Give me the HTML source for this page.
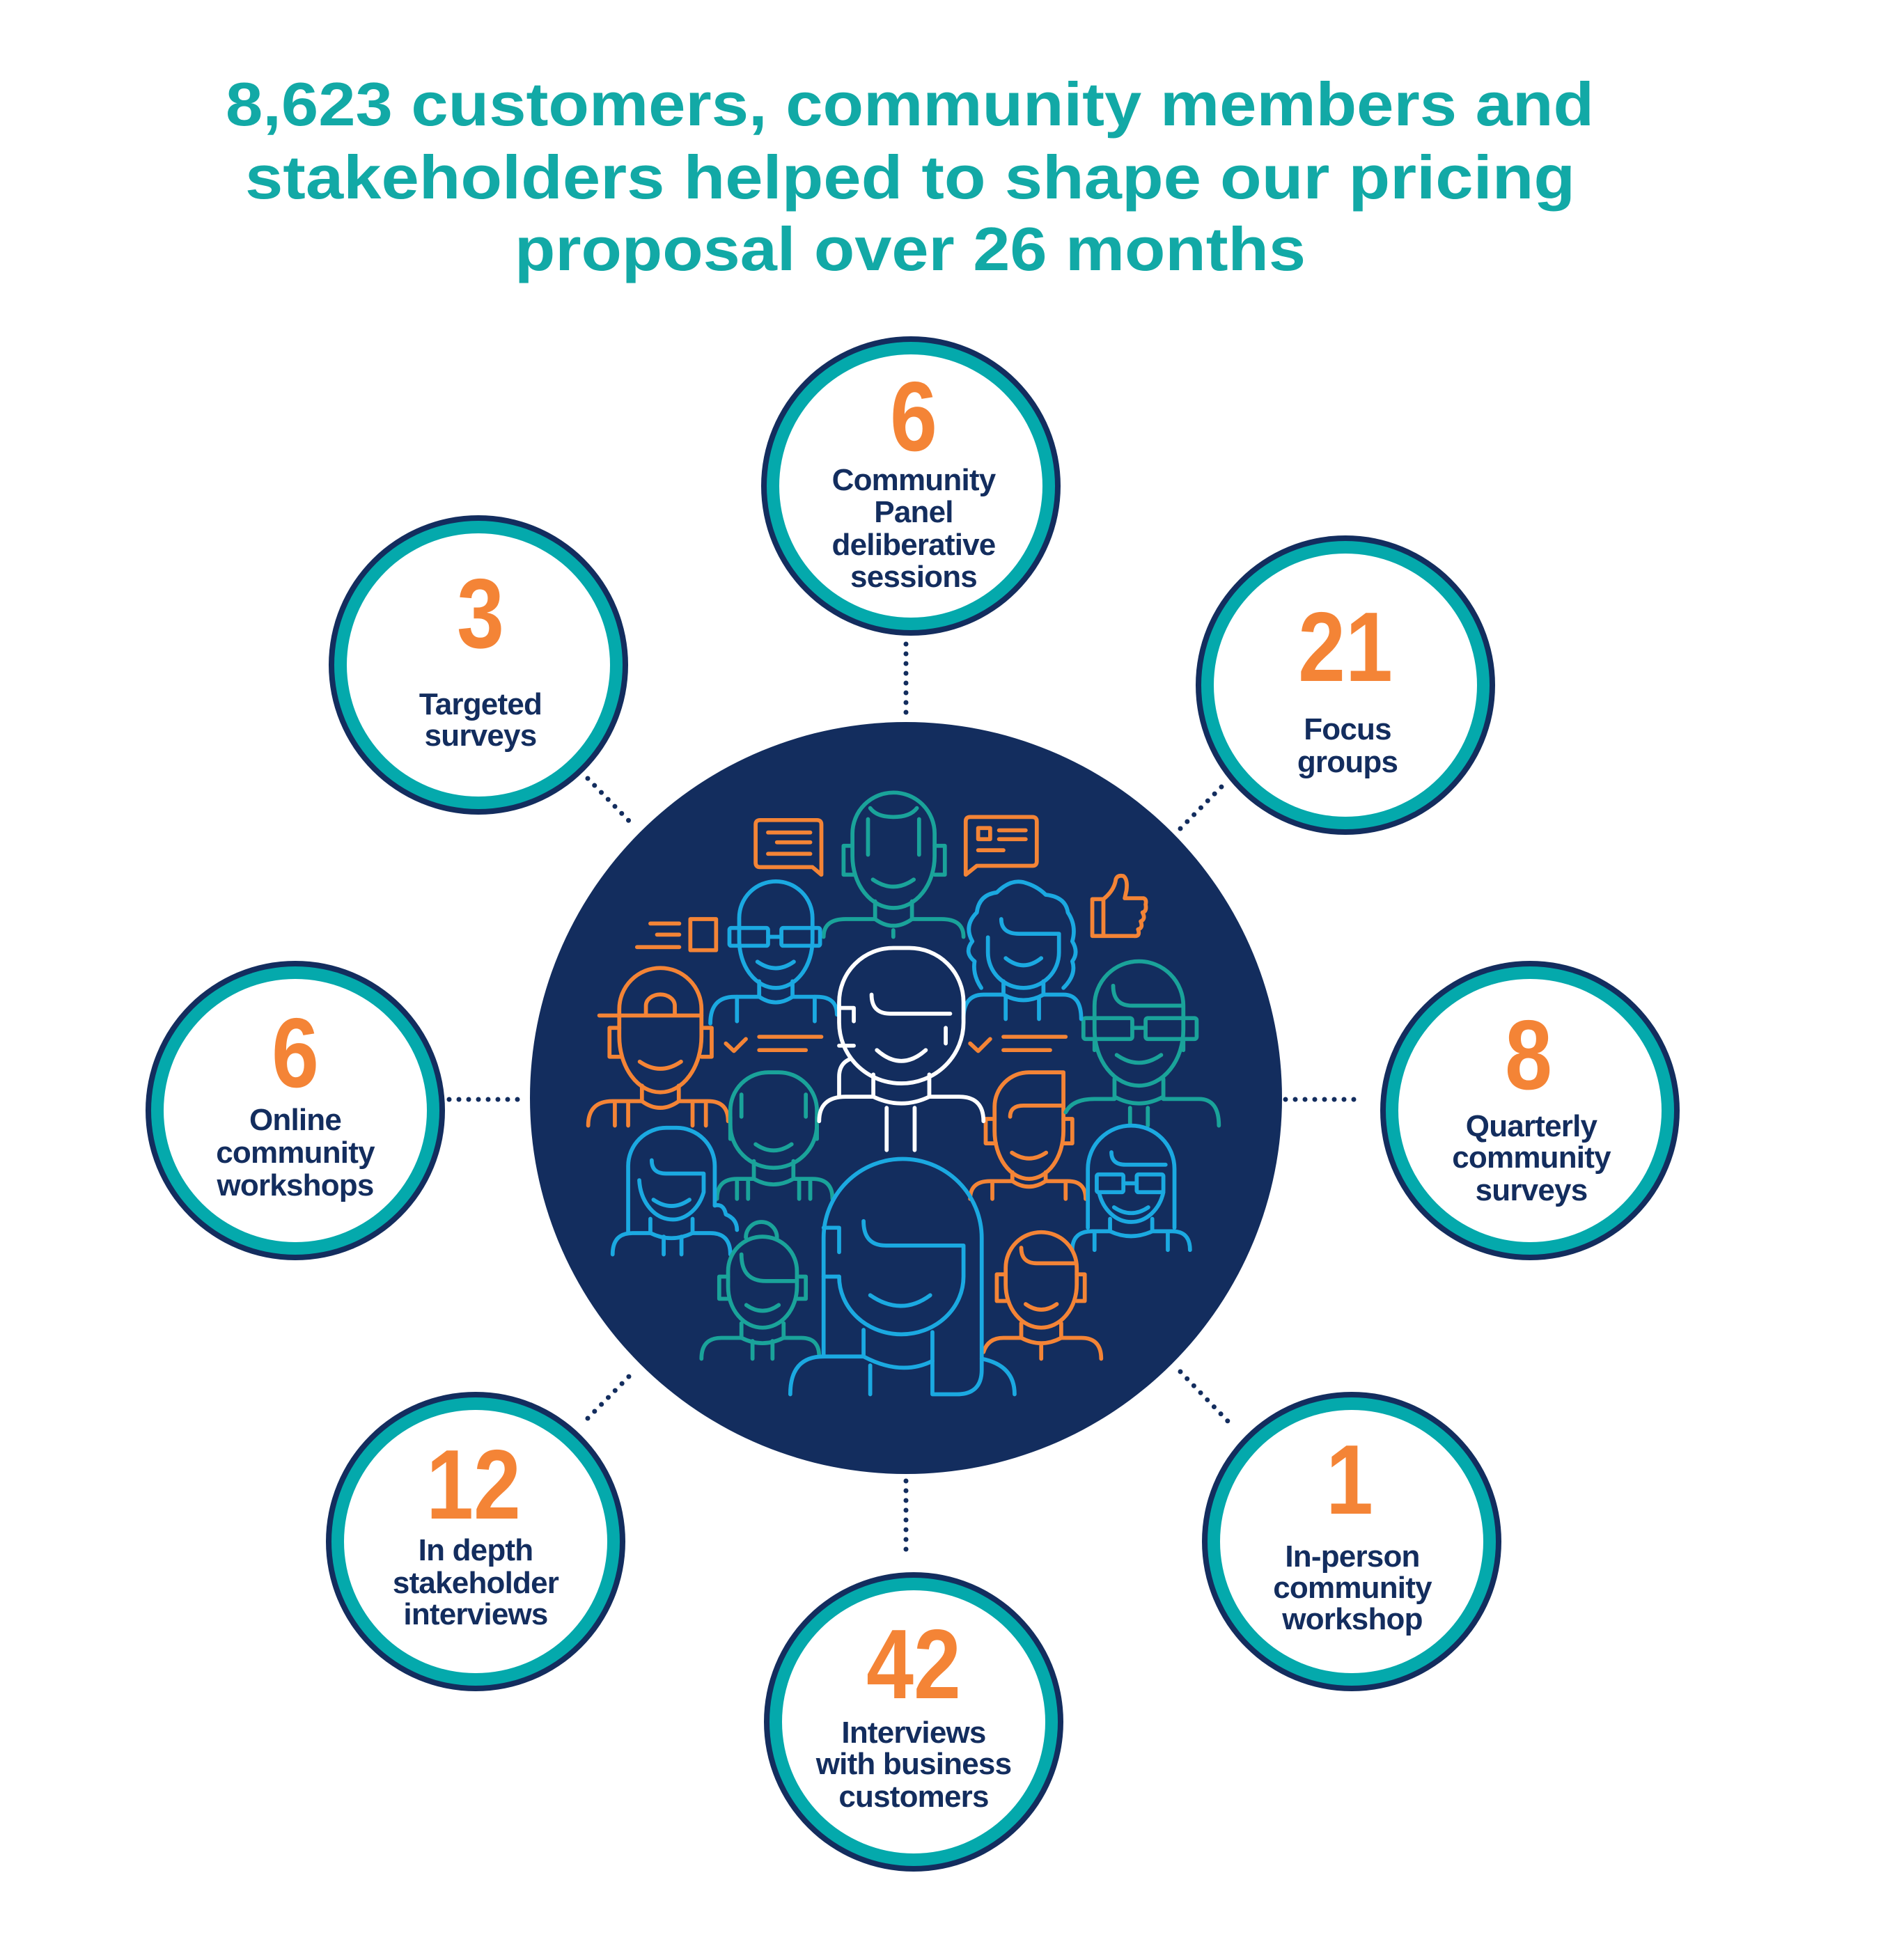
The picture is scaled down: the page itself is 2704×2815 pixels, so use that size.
<!DOCTYPE html>
<html><head><meta charset="utf-8"><style>
html,body{margin:0;padding:0;background:#fff;}
svg{display:block;}
.t{font-family:"Liberation Sans",sans-serif;font-weight:bold;fill:#12a9a6;font-size:88px;}
.n{font-family:"Liberation Sans Narrow","Liberation Sans",sans-serif;font-weight:bold;fill:#f48436;font-size:142px;text-anchor:middle;}
.l{font-family:"Liberation Sans",sans-serif;font-weight:bold;fill:#132d5e;font-size:44px;text-anchor:middle;letter-spacing:-0.8px;}
</style></head><body>
<svg width="2704" height="2815" viewBox="0 0 2704 2815" xmlns="http://www.w3.org/2000/svg">
<rect width="2704" height="2815" fill="#fff"/>
<text class="t" x="324" y="180" textLength="1965" lengthAdjust="spacingAndGlyphs">8,623 customers, community members and</text>
<text class="t" x="352" y="285" textLength="1910" lengthAdjust="spacingAndGlyphs">stakeholders helped to shape our pricing</text>
<text class="t" x="739" y="388" textLength="1136" lengthAdjust="spacingAndGlyphs">proposal over 26 months</text>

<g stroke="#132d5e" stroke-width="7" stroke-linecap="round" stroke-dasharray="0 14" fill="none">
<line x1="1301" y1="925" x2="1301" y2="1033"/>
<line x1="1301" y1="2127" x2="1301" y2="2232"/>
<line x1="645" y1="1579" x2="754" y2="1579"/>
<line x1="1846" y1="1579" x2="1956" y2="1579"/>
<line x1="844" y1="1118" x2="910" y2="1186"/>
<line x1="1695" y1="1190" x2="1763" y2="1121"/>
<line x1="844" y1="2037" x2="910" y2="1970"/>
<line x1="1695" y1="1970" x2="1763" y2="2041"/>
</g>

<circle cx="1301" cy="1577" r="540" fill="#132d5e"/>

<g transform="translate(800,1100) scale(0.6378)" fill="none" stroke-width="9" stroke-linecap="round" stroke-linejoin="round">
 <g stroke="#f48436">
  <path d="M457,122 H585 Q595,122 595,132 V245 L575,228 H457 Q447,228 447,218 V132 Q447,122 457,122 Z"/>
  <path d="M475,150 H570 M495,172 H570 M475,198 H570"/>
  <path d="M930,115 H1070 Q1080,115 1080,125 V215 Q1080,225 1070,225 H945 L920,245 V125 Q920,115 930,115 Z"/>
  <rect x="948" y="140" width="27" height="25"/>
  <path d="M995,145 H1055 M995,165 H1055 M948,190 H1005"/>
  <path d="M1205,300 H1230 Q1255,280 1258,255 Q1262,245 1275,248 Q1285,255 1282,280 L1278,298 H1320 Q1328,300 1325,312 Q1328,328 1318,330 Q1326,345 1314,350 Q1320,365 1308,368 Q1314,385 1298,383 H1205 Z M1230,300 V383"/>
  <path d="M210,355 H275 M225,380 H275 M180,408 H275"/>
  <rect x="300" y="345" width="58" height="70"/>
  <path d="M380,625 L398,642 L425,615 M455,610 H595 M455,640 H560"/>
  <path d="M930,625 L948,642 L975,615 M1005,610 H1145 M1005,640 H1110"/>
 </g>
 <g stroke="#1aa39a">
  <path d="M665,203 V152.5 A92.5,92.5 0 0 1 850,152.5 V203 A92.5,117 0 0 1 665,203"/>
  <path d="M705,95 Q720,115 757,115 Q795,115 810,95 M700,120 V200 M815,120 V200"/>
  <path d="M665,180 H645 V245 H668 M850,180 H873 V245 H850"/>
  <path d="M711,256 Q757.5,288 803,256"/>
  <path d="M716,305 V345 M799,305 V345 M716,345 Q757,375 799,345 M757,370 V385"/>
  <path d="M600,385 Q600,345 650,345 H716 M799,345 H865 Q915,345 915,385"/>
 </g>
 <g stroke="#1ba9e1">
  <path d="M410,392 V342.5 A82.5,82.5 0 0 1 575,342.5 V392 A82.5,108 0 0 1 410,392"/>
  <rect x="388" y="365" width="87" height="40" rx="4"/><rect x="505" y="365" width="87" height="40" rx="4"/>
  <path d="M475,385 H505"/>
  <path d="M451,441 Q492.5,470 533,441"/>
  <path d="M455,485 V520 M530,485 V520 M455,520 Q492,545 530,520 M405,520 V575 M580,520 V575"/>
  <path d="M345,580 Q345,520 400,520 H455 M530,520 H585 Q630,520 630,560"/>
 </g>
 <g stroke="#f48436">
  <path d="M140,609 V547.5 A92.5,92.5 0 0 1 325,547.5 V609 A92.5,126 0 0 1 140,609"/>
  <path d="M95,562 H325 M200,562 V540 A32,25 0 0 1 265,540 V562"/>
  <path d="M140,590 H118 V655 H142 M325,590 H348 V655 H325"/>
  <path d="M186,666 Q232.5,698 279,666"/>
  <path d="M191,720 V755 M274,720 V755 M191,755 Q232,785 274,755 M130,760 V810 M160,760 V810 M305,760 V810 M335,760 V810"/>
  <path d="M70,810 Q70,755 125,755 H191 M274,755 H340 Q385,755 385,800"/>
 </g>
 <g stroke="#1aa39a">
  <path d="M390,808 V776 A86,86 0 0 1 476,690 H499 A86,86 0 0 1 585,776 V808 A97.5,97 0 0 1 390,808"/>
  <path d="M390,790 V840 M585,790 V840 M415,740 V790 M560,740 V790"/>
  <path d="M447,852 Q487.5,880 528,852"/>
  <path d="M443,890 V930 M532,890 V930 M443,930 Q487,955 532,930 M405,935 V975 M430,935 V975 M545,935 V975 M570,935 V975"/>
  <path d="M360,975 Q360,930 405,930 H443 M532,930 H575 Q620,930 620,975"/>
 </g>
 <g stroke="#f48436">
  <path d="M985,822 V767.5 A77.5,77.5 0 0 1 1062.5,690 H1140 V822 A77.5,108 0 0 1 985,822"/>
  <path d="M1020,790 Q1020,765 1050,765 H1138"/>
  <path d="M985,795 H965 V850 H988 M1140,795 H1160 V850 H1140"/>
  <path d="M1024,871 Q1062.5,897 1101,871"/>
  <path d="M1025,915 V935 M1100,915 V935 M1025,935 Q1062,960 1100,935 M980,940 V975 M1145,940 V975"/>
  <path d="M930,975 Q930,935 975,935 H1025 M1100,935 H1150 Q1190,935 1190,975"/>
 </g>
 <g stroke="#1aa39a">
  <path d="M1210,594 V540 A100,100 0 0 1 1410,540 V594 A100,126 0 0 1 1210,594"/>
  <path d="M1252,495 Q1252,540 1295,540 H1405"/>
  <rect x="1185" y="568" width="110" height="47" rx="5"/><rect x="1325" y="568" width="115" height="47" rx="5"/>
  <path d="M1295,590 H1325 M1210,615 V640 M1410,615 V640"/>
  <path d="M1260,651 Q1310,686 1360,651"/>
  <path d="M1255,705 V745 M1365,705 V745 M1255,745 Q1310,775 1365,745 M1290,770 V810 M1330,770 V810"/>
  <path d="M1145,780 Q1160,750 1210,750 H1255 M1365,750 H1445 Q1490,750 1490,810"/>
 </g>
 <g stroke="#1ba9e1">
  <path d="M955,500 Q935,470 940,440 Q915,420 935,395 Q915,360 945,330 Q950,290 990,285 Q1020,255 1050,262 Q1080,270 1100,290 Q1145,295 1150,330 Q1170,360 1160,395 Q1175,420 1160,440 Q1170,470 1140,500"/>
  <path d="M970,386 V420 A80,80 0 0 0 1130,420 V378 H1040 Q1000,378 1000,345"/>
  <path d="M1010,433 Q1050,465 1090,433"/>
  <path d="M1005,485 V515 M1095,485 V515 M1005,515 Q1050,540 1095,515 M1010,520 V570 M1085,520 V570"/>
  <path d="M915,570 Q915,515 960,515 H1005 M1095,515 H1140 Q1180,515 1180,570"/>
 </g>
 <g stroke="#ffffff">
  <path d="M635,578 V532 A122,122 0 0 1 757,410 H793 A122,122 0 0 1 915,532 V578 A140,137 0 0 1 635,578"/>
  <path d="M708,515 Q708,558 750,558 H885"/>
  <path d="M635,545 H668 V575 M635,630 H668 M875,590 V625"/>
  <path d="M720,640 Q775,689 830,640"/>
  <path d="M712,695 V745 M838,695 V745 M712,745 Q775,775 838,745 M742,770 V865 M805,770 V865"/>
  <path d="M590,800 Q590,745 650,745 H712 M838,745 H905 Q960,745 960,800"/>
  <path d="M660,660 Q635,670 635,700 V745"/>
 </g>
 <g stroke="#1ba9e1">
  <path d="M160,1050 V901 A86,86 0 0 1 246,815 H269 A86,86 0 0 1 355,901 V990"/>
  <path d="M185,933 A75,95 0 0 0 330,960 V918 H245 Q213,918 213,888"/>
  <path d="M217,977 Q257.5,1005 298,977"/>
  <path d="M210,1020 V1052 M305,1020 V1052 M210,1052 Q257,1075 305,1052 M240,1060 V1100 M280,1060 V1100"/>
  <path d="M125,1100 Q125,1052 170,1052 H210 M305,1052 H345 Q390,1052 390,1100"/>
  <path d="M355,990 Q375,985 380,1010 Q405,1020 405,1045"/>
 </g>
 <g stroke="#1ba9e1">
  <path d="M1195,1040 V907.5 A97.5,97.5 0 0 1 1390,907.5 V1040"/>
  <path d="M1248,870 Q1248,898 1280,898 H1370"/>
  <rect x="1215" y="920" width="60" height="40" rx="4"/><rect x="1305" y="920" width="60" height="40" rx="4"/>
  <path d="M1275,940 H1305 M1220,960 A75,90 0 0 0 1365,960"/>
  <path d="M1254,994 Q1292.5,1020 1331,994"/>
  <path d="M1245,1020 V1048 M1340,1020 V1048 M1245,1048 Q1292,1070 1340,1048 M1210,1050 V1090 M1375,1050 V1090"/>
  <path d="M1160,1090 Q1160,1048 1205,1048 H1245 M1340,1048 H1385 Q1425,1048 1425,1090"/>
 </g>
 <g stroke="#1aa39a">
  <path d="M385,1173 V1137.5 A77.5,77.5 0 0 1 540,1137.5 V1173 A77.5,92 0 0 1 385,1173"/>
  <path d="M425,1062 A35,35 0 0 1 495,1062"/>
  <path d="M415,1100 Q415,1160 470,1160 H540"/>
  <path d="M385,1150 H365 V1200 H388 M540,1150 H560 V1200 H540"/>
  <path d="M426,1214 Q462.5,1240 499,1214"/>
  <path d="M415,1255 V1288 M510,1255 V1288 M415,1288 Q462,1312 510,1288 M440,1295 V1335 M485,1295 V1335"/>
  <path d="M325,1335 Q325,1288 370,1288 H415 M510,1288 H550 Q590,1288 590,1330"/>
 </g>
 <g stroke="#f48436">
  <path d="M1010,1168 V1130 A80,80 0 0 1 1170,1130 V1168 A80,97 0 0 1 1010,1168"/>
  <path d="M1045,1085 Q1045,1120 1080,1120 H1165"/>
  <path d="M1010,1145 H990 V1205 H1012 M1170,1145 H1188 V1205 H1170"/>
  <path d="M1055,1212 Q1090,1237 1125,1212"/>
  <path d="M1045,1255 V1288 M1135,1255 V1288 M1045,1288 Q1090,1312 1135,1288 M1090,1305 V1335"/>
  <path d="M960,1320 Q970,1288 1005,1288 H1045 M1135,1288 H1180 Q1225,1288 1225,1335"/>
 </g>
 <g stroke="#1ba9e1">
  <path d="M600,1330 V1063 A178,178 0 0 1 956,1063 V1360 Q956,1415 900,1415 H845 V1275"/>
  <path d="M635,1150 A140,130 0 0 0 915,1150 V1080 H740 Q690,1080 690,1025"/>
  <path d="M600,1040 H635 V1095 M600,1150 H635"/>
  <path d="M705,1192 Q775,1240 840,1192"/>
  <path d="M690,1270 V1330 M690,1330 Q775,1375 845,1340 M705,1350 V1415"/>
  <path d="M525,1415 Q525,1330 600,1330 H690 M956,1335 Q1030,1350 1030,1415"/>
 </g>
</g>

<g>
 <g transform="translate(1308,698)"><circle r="215" fill="#132d5e"/><circle r="207" fill="#04a9ac"/><circle r="189" fill="#fff"/></g>
 <g transform="translate(687,955)"><circle r="215" fill="#132d5e"/><circle r="207" fill="#04a9ac"/><circle r="189" fill="#fff"/></g>
 <g transform="translate(1932,984)"><circle r="215" fill="#132d5e"/><circle r="207" fill="#04a9ac"/><circle r="189" fill="#fff"/></g>
 <g transform="translate(424,1595)"><circle r="215" fill="#132d5e"/><circle r="207" fill="#04a9ac"/><circle r="189" fill="#fff"/></g>
 <g transform="translate(2197,1595)"><circle r="215" fill="#132d5e"/><circle r="207" fill="#04a9ac"/><circle r="189" fill="#fff"/></g>
 <g transform="translate(683,2214)"><circle r="215" fill="#132d5e"/><circle r="207" fill="#04a9ac"/><circle r="189" fill="#fff"/></g>
 <g transform="translate(1941,2214)"><circle r="215" fill="#132d5e"/><circle r="207" fill="#04a9ac"/><circle r="189" fill="#fff"/></g>
 <g transform="translate(1312,2473)"><circle r="215" fill="#132d5e"/><circle r="207" fill="#04a9ac"/><circle r="189" fill="#fff"/></g>
</g>

<text class="n" transform="translate(1312,647) scale(0.86,1)">6</text>
<text class="l" x="1312" y="704">Community</text>
<text class="l" x="1312" y="750">Panel</text>
<text class="l" x="1312" y="797">deliberative</text>
<text class="l" x="1312" y="843">sessions</text>

<text class="n" transform="translate(690,930) scale(0.86,1)">3</text>
<text class="l" x="690" y="1026">Targeted</text>
<text class="l" x="690" y="1071">surveys</text>

<text class="n" transform="translate(1932,978) scale(0.86,1)">21</text>
<text class="l" x="1935" y="1062">Focus</text>
<text class="l" x="1935" y="1109">groups</text>

<text class="n" transform="translate(424,1561) scale(0.86,1)">6</text>
<text class="l" x="424" y="1623">Online</text>
<text class="l" x="424" y="1670">community</text>
<text class="l" x="424" y="1717">workshops</text>

<text class="n" transform="translate(2195,1564) scale(0.86,1)">8</text>
<text class="l" x="2199" y="1632">Quarterly</text>
<text class="l" x="2199" y="1677">community</text>
<text class="l" x="2199" y="1724">surveys</text>

<text class="n" transform="translate(680,2181) scale(0.86,1)">12</text>
<text class="l" x="683" y="2241">In depth</text>
<text class="l" x="683" y="2288">stakeholder</text>
<text class="l" x="683" y="2333">interviews</text>

<text class="n" transform="translate(1938,2174) scale(0.86,1)">1</text>
<text class="l" x="1942" y="2250">In-person</text>
<text class="l" x="1942" y="2295">community</text>
<text class="l" x="1942" y="2340">workshop</text>

<text class="n" transform="translate(1312,2439) scale(0.86,1)">42</text>
<text class="l" x="1312" y="2503">Interviews</text>
<text class="l" x="1312" y="2548">with business</text>
<text class="l" x="1312" y="2595">customers</text>
</svg>
</body></html>
